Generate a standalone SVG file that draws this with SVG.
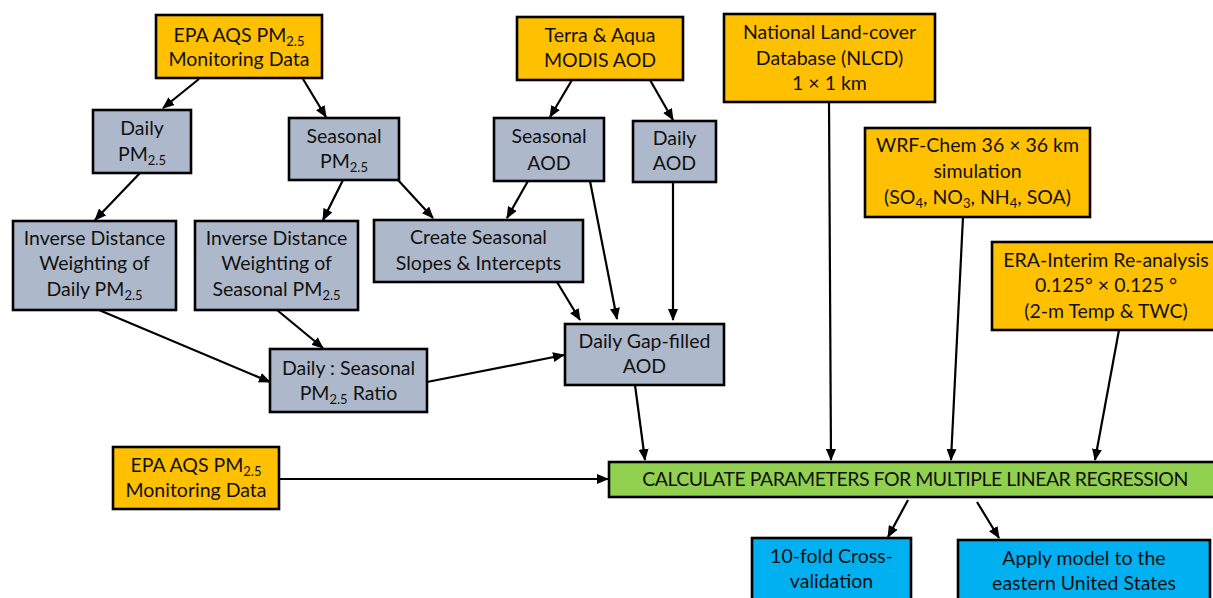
<svg xmlns="http://www.w3.org/2000/svg" width="1213" height="598" viewBox="0 0 1213 598">
<style>
.n rect{stroke:#000;stroke-width:2.6}
.o{fill:#FFC000}.g{fill:#ADB9CA}.gr{fill:#92D050}.b{fill:#00B0F0}
text{font-family:Lato,"Noto Sans",sans-serif;font-size:19.5px;fill:#111;text-anchor:middle}
.s{font-size:13px}
.c line{stroke:#000;stroke-width:2.2}
</style>
<defs>
<marker id="a" markerUnits="userSpaceOnUse" markerWidth="12" markerHeight="10" refX="11" refY="5" orient="auto">
<path d="M0,0 L12,5 L0,10 Z" fill="#000"/>
</marker>
</defs>
<rect width="1213" height="598" fill="#fff"/>
<g class="c">
<line x1="199" y1="79" x2="163" y2="108" marker-end="url(#a)"/>
<line x1="303" y1="79" x2="326" y2="117" marker-end="url(#a)"/>
<line x1="572" y1="80" x2="550" y2="117" marker-end="url(#a)"/>
<line x1="650" y1="80" x2="673" y2="120" marker-end="url(#a)"/>
<line x1="140" y1="173" x2="95" y2="220" marker-end="url(#a)"/>
<line x1="343" y1="180" x2="323" y2="220" marker-end="url(#a)"/>
<line x1="398" y1="180" x2="433" y2="218" marker-end="url(#a)"/>
<line x1="528" y1="181" x2="507" y2="218" marker-end="url(#a)"/>
<line x1="590" y1="181" x2="617" y2="319" marker-end="url(#a)"/>
<line x1="673" y1="182" x2="673" y2="320" marker-end="url(#a)"/>
<line x1="557" y1="282" x2="580" y2="320" marker-end="url(#a)"/>
<line x1="99" y1="310" x2="270" y2="382" marker-end="url(#a)"/>
<line x1="277" y1="310" x2="323" y2="348" marker-end="url(#a)"/>
<line x1="427" y1="382" x2="564" y2="355" marker-end="url(#a)"/>
<line x1="635" y1="385" x2="645" y2="460" marker-end="url(#a)"/>
<line x1="829" y1="102" x2="831" y2="460" marker-end="url(#a)"/>
<line x1="963" y1="217" x2="951" y2="460" marker-end="url(#a)"/>
<line x1="1119" y1="330" x2="1095" y2="460" marker-end="url(#a)"/>
<line x1="279" y1="479" x2="608" y2="479" marker-end="url(#a)"/>
<line x1="908" y1="500" x2="888" y2="537" marker-end="url(#a)"/>
<line x1="977" y1="502" x2="999" y2="538" marker-end="url(#a)"/>
</g>
<g id="epa1" class="n"><rect class="o" x="156" y="15" width="166" height="63"/>
<text x="239" y="42">EPA AQS PM<tspan class="s" dy="4">2.5</tspan></text><text x="239" y="66">Monitoring Data</text></g>
<g id="dailypm" class="n"><rect class="g" x="93" y="110" width="98" height="63"/>
<text x="142" y="135">Daily</text><text x="142" y="161">PM<tspan class="s" dy="4">2.5</tspan></text></g>
<g id="seaspm" class="n"><rect class="g" x="289" y="118" width="110" height="62"/>
<text x="344" y="143">Seasonal</text><text x="344" y="168">PM<tspan class="s" dy="4">2.5</tspan></text></g>
<g id="modis" class="n"><rect class="o" x="517" y="17" width="166" height="63"/>
<text x="600" y="42">Terra &amp; Aqua</text><text x="600" y="67">MODIS AOD</text></g>
<g id="seasaod" class="n"><rect class="g" x="494" y="118" width="110" height="63"/>
<text x="549" y="143">Seasonal</text><text x="549" y="170">AOD</text></g>
<g id="dailyaod" class="n"><rect class="g" x="633" y="121" width="83" height="61"/>
<text x="674.5" y="145">Daily</text><text x="674.5" y="170">AOD</text></g>
<g id="nlcd" class="n"><rect class="o" x="724" y="14" width="211" height="88"/>
<text x="829.5" y="39">National Land-cover</text><text x="829.5" y="65">Database (NLCD)</text><text x="829.5" y="90">1 × 1 km</text></g>
<g id="wrf" class="n"><rect class="o" x="865" y="128" width="225" height="89"/>
<text x="977.5" y="152">WRF-Chem 36 × 36 km</text><text x="977.5" y="178">simulation</text>
<text x="977.5" y="204">(SO<tspan class="s" dy="4">4</tspan><tspan dy="-4">, NO</tspan><tspan class="s" dy="4">3</tspan><tspan dy="-4">, NH</tspan><tspan class="s" dy="4">4</tspan><tspan dy="-4">, SOA)</tspan></text></g>
<g id="era" class="n"><rect class="o" x="992" y="242" width="228" height="88"/>
<text x="1106" y="267">ERA-Interim Re-analysis</text><text x="1106" y="292">0.125° × 0.125 °</text><text x="1106" y="318">(2-m Temp &amp; TWC)</text></g>
<g id="idwd" class="n"><rect class="g" x="13" y="221" width="163" height="89"/>
<text x="94.5" y="245">Inverse Distance</text><text x="94.5" y="270">Weighting of</text><text x="94.5" y="296">Daily PM<tspan class="s" dy="4">2.5</tspan></text></g>
<g id="idws" class="n"><rect class="g" x="195" y="221" width="163" height="89"/>
<text x="276.5" y="245">Inverse Distance</text><text x="276.5" y="270">Weighting of</text><text x="276.5" y="296">Seasonal PM<tspan class="s" dy="4">2.5</tspan></text></g>
<g id="slopes" class="n"><rect class="g" x="374" y="220" width="209" height="62"/>
<text x="478.5" y="244">Create Seasonal</text><text x="478.5" y="270">Slopes &amp; Intercepts</text></g>
<g id="ratio" class="n"><rect class="g" x="270" y="349" width="157" height="63"/>
<text x="348.5" y="375">Daily : Seasonal</text><text x="348.5" y="400">PM<tspan class="s" dy="4">2.5</tspan><tspan dy="-4"> Ratio</tspan></text></g>
<g id="gapfill" class="n"><rect class="g" x="565" y="324" width="159" height="61"/>
<text x="644.5" y="348">Daily Gap-filled</text><text x="644.5" y="373">AOD</text></g>
<g id="epa2" class="n"><rect class="o" x="113" y="447" width="166" height="62"/>
<text x="196" y="472">EPA AQS PM<tspan class="s" dy="4">2.5</tspan></text><text x="196" y="497">Monitoring Data</text></g>
<g id="calc" class="n"><rect class="gr" x="609" y="462" width="614" height="35"/>
<text x="915" y="486" style="letter-spacing:-0.5px">CALCULATE PARAMETERS FOR MULTIPLE LINEAR REGRESSION</text></g>
<g id="cv" class="n"><rect class="b" x="752" y="538" width="159" height="70"/>
<text x="831.5" y="563">10-fold Cross-</text><text x="831.5" y="588">validation</text></g>
<g id="apply" class="n"><rect class="b" x="958" y="540" width="252" height="70"/>
<text x="1084" y="565">Apply model to the</text><text x="1084" y="590">eastern United States</text></g>
</svg>
